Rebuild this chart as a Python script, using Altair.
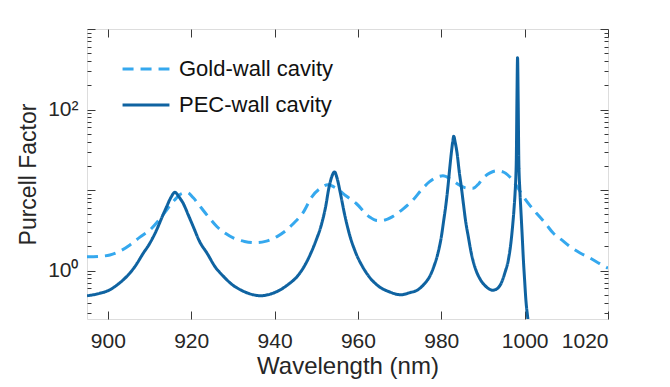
import altair as alt
import pandas as pd

series_names = ["Gold-wall cavity", "PEC-wall cavity"]
series_colors = ["#35A8EE", "#0F63A1"]

gold_nm = [895, 898, 900.5, 903, 905.3, 907.7, 910.1, 912.2, 914.1, 916, 917.7, 919, 920.5,
           922.2, 924.2, 926.2, 928.2, 930.2, 932.8, 935.4, 937.8, 940.6, 942.6, 944.6, 946.8,
           949, 951, 952.8, 954.7, 957.1, 959.6, 962.7, 964.7, 966.5, 968.3, 970.8, 973.2,
           975.2, 977.2, 979, 980.4, 982.4, 984.4, 986, 987.6, 989, 990, 991.6, 993.2, 994.8,
           996.4, 998.2, 999.7, 1001.3, 1002.9, 1004.9, 1006.9, 1008.9, 1010.9, 1013.3, 1015.7,
           1018, 1020]
gold_val = [1.48, 1.5, 1.56, 1.75, 2.08, 2.6, 3.19, 4.2, 5.65, 7.5, 9.0, 9.3, 8.0,
            6.2, 4.6, 3.5, 2.9, 2.52, 2.3, 2.22, 2.3, 2.64, 3.1, 3.87, 5.2,
            8.3, 10.5, 11.6, 10.6, 8.5, 6.8, 4.67, 4.17, 4.25, 4.67, 5.8, 7.5,
            10, 12.7, 14.5, 15.0, 13.5, 11.5, 10.6, 10.5, 12, 14, 16.2, 17.3, 16.8,
            14.6, 11, 8.3, 6.4, 5.1, 3.9, 2.9, 2.4, 1.98, 1.65, 1.43,
            1.22, 1.07]

pec_nm = [895, 898, 900.5, 902.5, 904.5, 906.5, 908.5, 910, 911.7, 913, 914.1, 915.2, 916.1,
          917, 918.1, 919.3, 920.5, 922, 923.8, 925.8, 927.8, 929.8, 931.8, 934, 936.6,
          939, 941.4, 943.4, 945.4, 947, 948.7, 950, 951.1, 952.2, 953.1, 953.8, 954.4,
          955, 955.8, 956.8, 957.9, 959.4, 961.1, 963, 965.1, 967.5, 970.3,
          972.4, 974.4, 975.9, 977.2, 978.3, 979.2, 980, 980.6, 981.1, 981.6, 982.0, 982.4,
          982.75, 983.0, 983.3, 983.8, 984.3, 984.8, 985.3, 985.8, 986.5, 987.2, 988.2,
          989.2, 990.5, 992.4, 993.5, 994.4, 995.3, 996.1, 996.7, 997.1, 997.45, 997.7,
          997.9, 998.0, 998.15, 998.3, 998.45, 998.6, 998.85, 999.1, 999.4, 999.7,
          1000.0, 1000.3, 1000.7, 1001.0]
pec_val = [0.486, 0.52, 0.577, 0.68, 0.84, 1.12, 1.64, 2.15, 3.19, 4.6, 6.2, 8.2, 9.4,
           8.3, 6.8, 4.9, 3.5, 2.3, 1.64, 1.1, 0.84, 0.67, 0.577, 0.515, 0.486,
           0.51, 0.577, 0.68, 0.84, 1.1, 1.64, 2.4, 3.5, 6, 11, 15, 16.8,
           14, 9.1, 5, 2.9, 1.7, 1.12, 0.8, 0.63, 0.545, 0.5,
           0.53, 0.577, 0.68, 0.84, 1.15, 1.64, 2.6, 4.25, 6.5, 11, 18, 28.5,
           40, 46.7, 40, 28.5, 17, 11, 6.8, 4.25, 2.6, 1.64, 1.05,
           0.8, 0.65, 0.57, 0.6, 0.70, 0.95, 1.36, 2.2, 3.5, 5.8, 9.1,
           15, 23.5, 130, 441, 130, 23.5, 10, 5.6, 2.8, 1.36,
           0.75, 0.43, 0.27, 0.2]

x_ticks = [900, 920, 940, 960, 980, 1000, 1020]
y_label_values = [1, 100]
y_all_ticks = [0.3, 0.4, 0.5, 0.6, 0.7, 0.8, 0.9, 1,
               2, 3, 4, 5, 6, 7, 8, 9, 10,
               20, 30, 40, 50, 60, 70, 80, 90, 100,
               200, 300, 400, 500, 600, 700, 800, 900, 1000]

df = pd.concat([
    pd.DataFrame({"nm": gold_nm, "val": gold_val, "series": series_names[0], "order": range(len(gold_nm))}),
    pd.DataFrame({"nm": pec_nm, "val": pec_val, "series": series_names[1], "order": range(len(pec_nm))}),
])

W, H = 521, 290
FONT = "Liberation Sans"
TXT = "#262626"
TICKC = "#3a3a3a"

xs = alt.Scale(domain=[895, 1020], nice=False, zero=False)
ys = alt.Scale(type="log", domain=[0.25, 1000], nice=False)

major_test = "datum.value == 1 || datum.value == 10 || datum.value == 100 || datum.value == 1000"
ytick_size = {"condition": {"test": major_test, "value": 8}, "value": 4}

tick_common = dict(labels=False, title=None, domain=False, grid=False,
                   tickColor=TICKC, tickWidth=1)

legend = alt.Legend(
    title=None, orient="none", legendX=34, legendY=15, direction="vertical",
    symbolType="stroke", symbolSize=2200, symbolStrokeWidth=3,
    labelFontSize=22, labelFont=FONT, labelColor="#111111", labelOffset=8,
    rowPadding=-16, padding=0,
)

lines = alt.Chart(df).mark_line(strokeWidth=3, clip=True, interpolate="monotone").encode(
    x=alt.X("nm:Q", scale=xs, axis=alt.Axis(
        values=x_ticks, format="d", tickSize=0, domain=False, grid=False,
        labelFontSize=21, labelFont=FONT, labelColor=TXT, labelPadding=11,
        title="Wavelength (nm)", titleFontSize=24, titleFont=FONT, titleFontWeight="normal",
        titleColor=TXT, titleBaseline="alphabetic", titleY=54.5, titleX=W / 2)),
    y=alt.Y("val:Q", scale=ys, axis=alt.Axis(
        values=y_label_values, tickSize=0, domain=False, grid=False,
        labelExpr="datum.value == 1 ? '10⁰' : '10²'",
        labelFontSize=21, labelFont=FONT, labelColor=TXT, labelPadding=9,
        title="Purcell Factor", titleFontSize=23, titleFont=FONT, titleFontWeight="normal",
        titleColor=TXT, titleBaseline="alphabetic", titleX=-52, titleY=H / 2)),
    color=alt.Color("series:N", scale=alt.Scale(domain=series_names, range=series_colors), legend=legend),
    strokeDash=alt.StrokeDash("series:N", scale=alt.Scale(domain=series_names, range=[[11, 7], [1, 0]]), legend=legend),
    order="order:Q",
)

ticks_a = alt.Chart(df).mark_point(opacity=0).encode(
    x=alt.X("nm:Q", scale=xs, axis=alt.Axis(orient="top", offset=-H, values=x_ticks, tickSize=8, **tick_common)),
    y=alt.Y("val:Q", scale=ys, axis=alt.Axis(orient="right", offset=-W, values=y_all_ticks, tickSize=ytick_size, **tick_common)),
)
ticks_b = alt.Chart(df).mark_point(opacity=0).encode(
    x=alt.X("nm:Q", scale=xs, axis=alt.Axis(orient="bottom", offset=-H, values=x_ticks, tickSize=8, **tick_common)),
    y=alt.Y("val:Q", scale=ys, axis=alt.Axis(orient="left", offset=-W, values=y_all_ticks, tickSize=ytick_size, **tick_common)),
)

chart = alt.layer(ticks_a, ticks_b, lines).resolve_axis(
    x="independent", y="independent"
).properties(
    width=W, height=H,
    autosize=alt.AutoSizeParams(type="none"),
    padding={"left": 79, "top": 21, "right": 40, "bottom": 60},
).configure_view(stroke="#262626", strokeWidth=1.2).configure(background="white")

chart.save("out.html", embed_options={"renderer": "svg", "actions": False})
